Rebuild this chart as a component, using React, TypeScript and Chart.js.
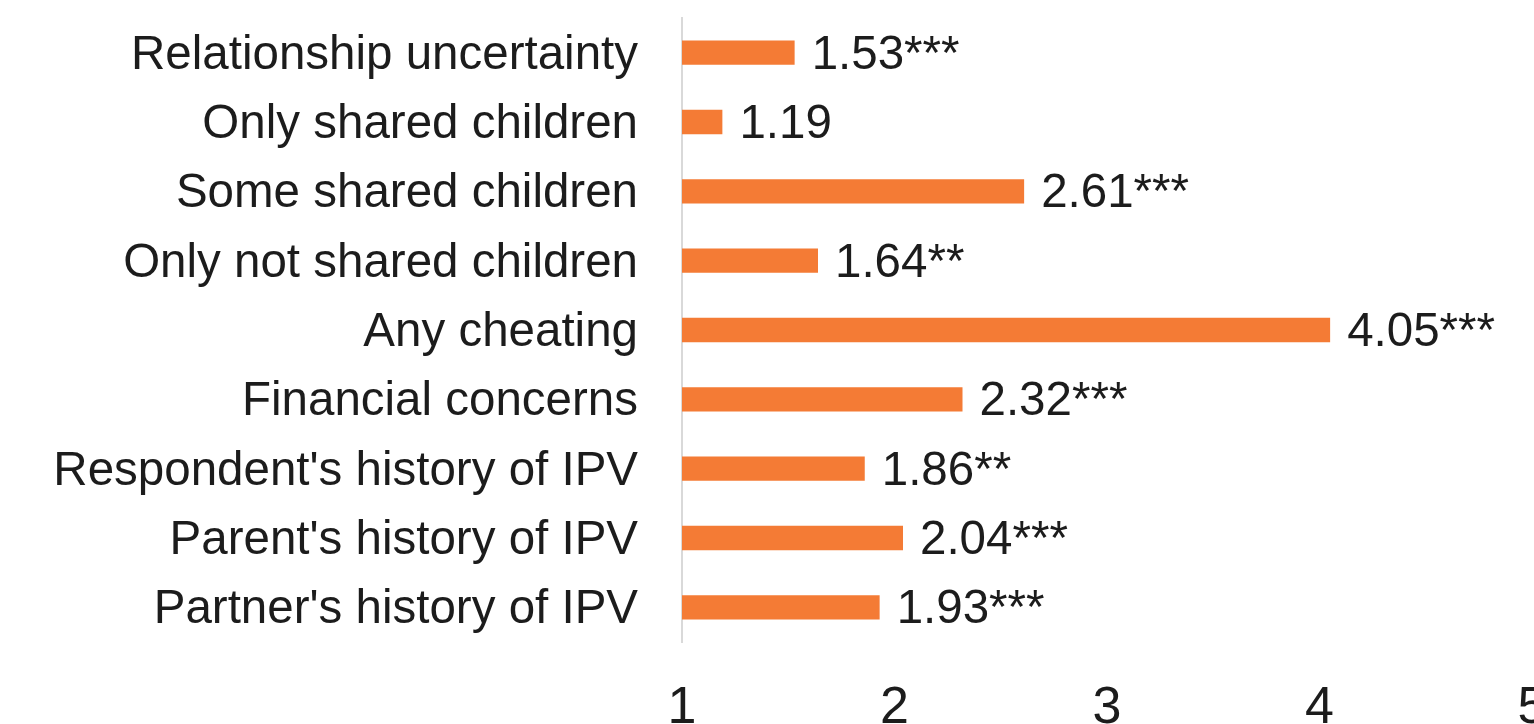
import React, { useEffect, useRef } from "react";
import { Chart, registerables } from "chart.js";

Chart.register(...registerables);

const categories = [
  "Relationship uncertainty",
  "Only shared children",
  "Some shared children",
  "Only not shared children",
  "Any cheating",
  "Financial concerns",
  "Respondent's history of IPV",
  "Parent's history of IPV",
  "Partner's history of IPV",
];
const values = [1.53, 1.19, 2.61, 1.64, 4.05, 2.32, 1.86, 2.04, 1.93];
const significance = ["***", "", "***", "**", "***", "***", "**", "***", "***"];
const xMin = 1;
const xMax = 5;
const xStep = 1;

const FONT = "'Liberation Sans', Arial, sans-serif";
const TEXT = "#1c1c1c";
const BAR = "#F47B35";

const valueLabels = {
  id: "valueLabels",
  afterDatasetsDraw(chart: any) {
    const ctx = chart.ctx;
    const meta = chart.getDatasetMeta(0);
    ctx.save();
    ctx.font = `47.5px ${FONT}`;
    ctx.fillStyle = TEXT;
    ctx.textAlign = "left";
    ctx.textBaseline = "middle";
    meta.data.forEach((bar: any, i: number) => {
      const txt = values[i].toFixed(2) + significance[i];
      ctx.fillText(txt, bar.x + 17, bar.y + 3);
    });
    ctx.restore();
  },
};

export default function App() {
  const ref = useRef<HTMLCanvasElement | null>(null);
  useEffect(() => {
    document.body.style.margin = "0";
    if (!ref.current) return;
    const chart = new Chart(ref.current, {
      type: "bar",
      data: {
        labels: categories,
        datasets: [
          {
            data: values,
            backgroundColor: BAR,
            borderWidth: 0,
            categoryPercentage: 1,
            barPercentage: 0.35,
          },
        ],
      },
      options: {
        indexAxis: "y",
        responsive: false,
        animation: false,
        layout: { padding: { top: 18, right: 2, left: 0, bottom: 0 } },
        plugins: {
          legend: { display: false },
          tooltip: { enabled: false },
        },
        scales: {
          x: {
            type: "linear",
            min: xMin,
            max: xMax,
            grid: { display: false, drawTicks: false },
            border: { display: false },
            ticks: {
              stepSize: xStep,
              maxRotation: 0,
              autoSkip: false,
              padding: 35,
              color: TEXT,
              font: { family: FONT, size: 52 },
            },
            afterFit(scale: any) {
              scale.height = 82;
              scale.paddingRight = 0;
              scale.paddingLeft = 0;
            },
          },
          y: {
            grid: { display: false, drawTicks: false },
            border: { display: true, color: "#d9d9d9", width: 2 },
            ticks: {
              padding: 44,
              labelOffset: 3,
              color: TEXT,
              font: { family: FONT, size: 47.5 },
            },
            afterFit(scale: any) {
              scale.width = 682;
              scale.paddingTop = 0;
              scale.paddingBottom = 0;
            },
          },
        },
      },
      plugins: [valueLabels],
    });
    return () => chart.destroy();
  }, []);
  return (
    <div style={{ position: "fixed", left: 0, top: 0, width: 1534, height: 724, background: "#fff" }}>
      <canvas ref={ref} width={1534} height={724} />
    </div>
  );
}
